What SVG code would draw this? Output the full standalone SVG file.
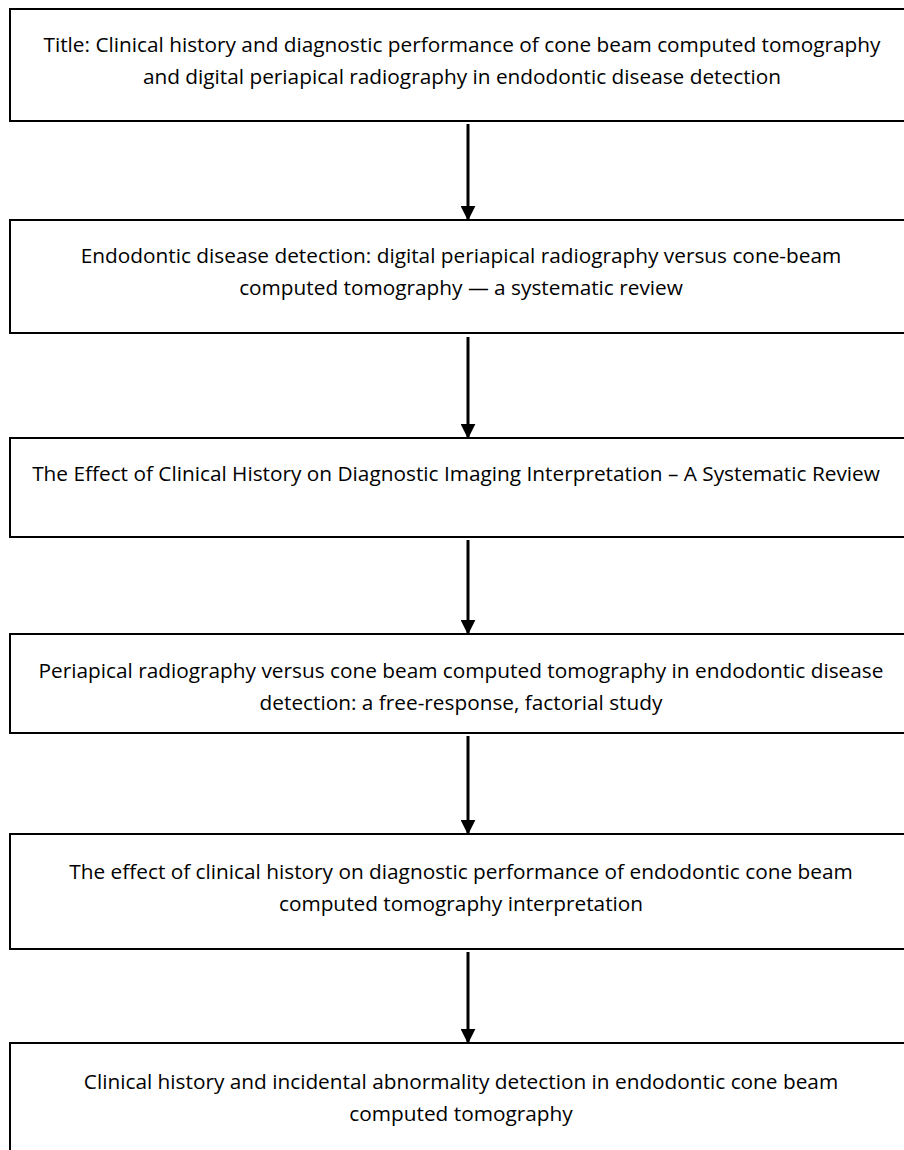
<svg xmlns="http://www.w3.org/2000/svg" width="904" height="1150" viewBox="0 0 904 1150">
<defs>
<style>
.box{fill:#fff;stroke:#000;stroke-width:2}
.t{font-family:"Open Sans","Liberation Sans",sans-serif;font-size:20.8px;fill:#000;text-anchor:middle}
.c{stroke:#000;stroke-width:3;fill:none}
</style>
<marker id="ah" markerWidth="5" markerHeight="5" refX="4.4" refY="2.5" orient="auto" markerUnits="strokeWidth" viewBox="0 0 5 5">
<path d="M0,0 L5,2.5 L0,5 Z" fill="#000"/>
</marker>
</defs>
<rect width="904" height="1150" fill="#fff"/>
<g id="n1"><rect class="box" x="10" y="9" width="900" height="112"/>
<text class="t" x="462" y="52">Title: Clinical history and diagnostic performance of cone beam computed tomography</text>
<text class="t" x="462" y="84">and digital periapical radiography in endodontic disease detection</text></g>
<g id="n2"><rect class="box" x="10" y="220" width="900" height="113"/>
<text class="t" x="461" y="263">Endodontic disease detection: digital periapical radiography versus cone-beam</text>
<text class="t" x="461" y="295">computed tomography — a systematic review</text></g>
<g id="n3"><rect class="box" x="10" y="438" width="900" height="99"/>
<text class="t" x="456" y="481">The Effect of Clinical History on Diagnostic Imaging Interpretation – A Systematic Review</text></g>
<g id="n4"><rect class="box" x="10" y="634" width="900" height="99"/>
<text class="t" x="461" y="678">Periapical radiography versus cone beam computed tomography in endodontic disease</text>
<text class="t" x="461" y="710">detection: a free-response, factorial study</text></g>
<g id="n5"><rect class="box" x="10" y="834" width="900" height="115"/>
<text class="t" x="461" y="879">The effect of clinical history on diagnostic performance of endodontic cone beam</text>
<text class="t" x="461" y="911">computed tomography interpretation</text></g>
<g id="n6"><rect class="box" x="10" y="1043" width="900" height="130"/>
<text class="t" x="461" y="1089">Clinical history and incidental abnormality detection in endodontic cone beam</text>
<text class="t" x="461" y="1121">computed tomography</text></g>
<g id="connectors">
<line class="c" x1="468" y1="124" x2="468" y2="219" marker-end="url(#ah)"/>
<line class="c" x1="468" y1="337" x2="468" y2="437" marker-end="url(#ah)"/>
<line class="c" x1="468" y1="540" x2="468" y2="633" marker-end="url(#ah)"/>
<line class="c" x1="468" y1="736" x2="468" y2="833" marker-end="url(#ah)"/>
<line class="c" x1="468" y1="952" x2="468" y2="1042" marker-end="url(#ah)"/>
</g>
</svg>
